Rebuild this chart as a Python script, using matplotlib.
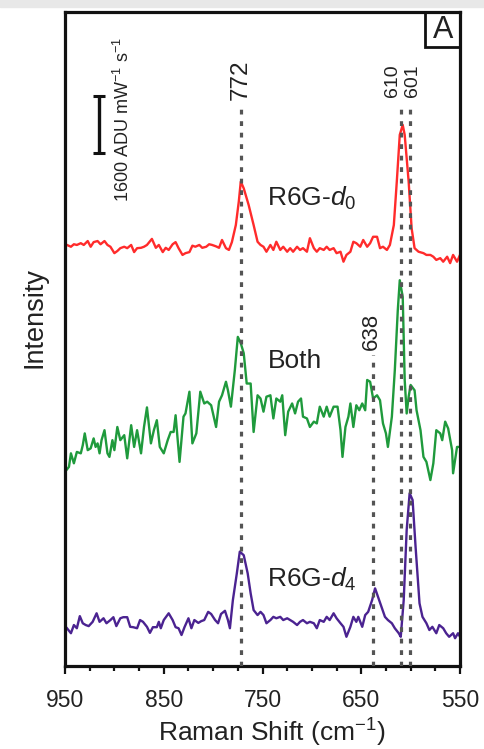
import numpy as np
import matplotlib
matplotlib.use("Agg")
import matplotlib.pyplot as plt
from matplotlib.patches import Rectangle

plt.rcParams['font.family'] = ['Liberation Sans', 'DejaVu Sans']
plt.rcParams['mathtext.fontset'] = 'custom'
plt.rcParams['mathtext.rm'] = 'Liberation Sans'
plt.rcParams['mathtext.it'] = 'Liberation Sans:italic'
plt.rcParams['mathtext.bf'] = 'Liberation Sans:bold'

# ---- spectra (Raman shift in cm^-1, intensity in ADU mW^-1 s^-1 above each baseline)
red_shift = [948, 944, 941, 938, 934, 931, 927, 924, 921, 917, 914, 910, 907, 904, 900,
             897, 894, 890, 887, 883, 880, 877, 873, 870, 867, 862, 858, 855, 851, 848,
             845, 841, 838, 835, 831, 828, 824, 821, 818, 814, 811, 807, 804, 801, 797,
             794, 791, 787, 784, 781, 777, 774, 772, 769, 764, 759, 755, 752, 749, 746,
             742, 739, 736, 732, 729, 725, 722, 719, 715, 712, 709, 705, 702, 698, 695,
             692, 688, 685, 682, 678, 675, 671, 668, 665, 661, 658, 655, 651, 648, 644,
             641, 638, 634, 631, 628, 624, 621, 617, 614, 611, 608, 606, 602, 599, 596,
             592, 587, 584, 580, 577, 574, 570, 567, 563, 560, 557, 553, 550]
red_counts = [140, 90, 160, 140, 190, 140, 250, 90, 220, 250, 160, 250, 140, 90, -90,
              -30, 50, 90, 50, 140, -60, 50, 60, 90, 140, 310, 60, 140, -60, 60,
              0, 160, 220, 50, -140, -90, -60, 120, 90, 140, 60, 90, 160, 140, 100,
              60, 280, 50, 0, 220, 700, 1360, 1920, 1730, 1260, 700, 230, 140, 90, -50,
              140, 0, 230, 0, 90, -50, 50, -50, 90, 0, 50, -50, 330, 50, -50,
              50, 0, 90, 0, 50, -90, -50, -330, -140, -50, 230, 190, 90, 280, 90,
              190, 370, 370, 50, 90, 0, 140, 700, 1920, 3230, 3510, 3230, 1920, 610, 50,
              -50, -90, -140, -140, -190, -280, -230, -330, -190, -370, -140, -330, -140]

both_shift = [950, 946, 944, 941, 938, 934, 932, 930, 927, 924, 921, 919, 917, 915, 913,
              910, 907, 905, 902, 900, 897, 894, 890, 887, 883, 880, 877, 873, 870, 867,
              863, 860, 857, 854, 850, 846, 843, 840, 838, 834, 830, 828, 824, 821, 817,
              813, 809, 806, 802, 797, 794, 791, 787, 785, 782, 778, 775, 772, 769, 766,
              762, 759, 755, 752, 749, 746, 742, 739, 736, 732, 730, 727, 724, 720, 717,
              714, 711, 709, 705, 702, 698, 695, 692, 688, 685, 682, 678, 674, 671, 669,
              666, 663, 661, 658, 655, 652, 649, 646, 644, 641, 638, 634, 631, 628, 625,
              623, 619, 616, 613, 611, 608, 606, 604, 602, 600, 596, 594, 590, 587, 584,
              580, 577, 574, 570, 568, 565, 562, 558, 557, 553, 550]
both_counts = [-330, -190, 190, -90, 230, 190, 420, 750, 280, 330, 610, 370, 470, 190, 560,
               840, 190, 90, 560, 280, 930, 560, 700, 50, 980, 370, 840, 190, 930, 1480,
               470, 840, 1120, 370, 190, 560, 790, 790, 1260, -50, 1220, 1310, 1920, 470, 750,
               1920, 1590, 1640, 1540, 930, 1640, 1820, 2200, 1960, 1500, 2530, 3460, 3280, 3000, 2150,
               2150, 790, 1820, 1730, 1360, 1780, 1820, 1170, 1730, 1640, 1820, 700, 1360, 1590, 1310,
               1640, 1730, 1220, 1170, 930, 1080, 1030, 1500, 1220, 1500, 1220, 1500, 1500, 840, 90,
               930, 1220, 1590, 930, 1540, 1400, 1590, 1400, 2250, 2200, 1730, 1820, 1680, 1030, 750,
               370, 1220, 2530, 4210, 5050, 4580, 2250, 1310, 1780, 2110, 1960, 1400, 840, 90, -50,
               -560, -90, 840, 750, 560, 1080, 890, 280, -370, 370, 370]

d4_shift = [948, 944, 941, 938, 935, 932, 929, 926, 922, 918, 915, 911, 908, 904, 901,
            898, 894, 891, 887, 884, 881, 877, 874, 871, 867, 864, 861, 857, 855, 853,
            850, 845, 841, 838, 835, 832, 829, 825, 822, 819, 815, 812, 809, 805, 802,
            798, 795, 792, 788, 785, 783, 780, 776, 773, 769, 765, 762, 759, 755, 752,
            749, 746, 742, 739, 736, 732, 729, 725, 722, 719, 715, 712, 709, 705, 702,
            698, 695, 692, 688, 685, 682, 678, 675, 671, 668, 665, 661, 658, 655, 653,
            649, 646, 643, 639, 636, 633, 629, 626, 623, 619, 616, 612, 610, 607, 604,
            601, 598, 595, 591, 588, 584, 581, 578, 574, 571, 567, 564, 561, 557, 555,
            552, 550]
d4_counts = [-90, -230, 0, -90, 250, 50, 0, -30, 90, 330, 90, 190, 50, 140, 220,
             -30, 190, 220, 220, -50, -60, -90, 140, 90, -50, -220, -60, -60, 90, -90,
             140, 330, 140, -60, -90, -280, -60, 190, -90, 140, 60, 110, 140, 370, 310,
             140, 50, 310, 400, 140, -90, 700, 1450, 2060, 1960, 1450, 890, 420, 280, 370,
             280, 50, 140, 230, 190, 230, 140, 190, 140, 90, 0, 90, 140, 50, 90,
             50, -90, 140, 90, 230, 140, 330, 190, 50, -50, -330, -50, 230, 90, 230,
             -50, 280, 370, 700, 1030, 790, 470, 230, 140, 50, -90, -230, -330, 700, 2670,
             3700, 3510, 2200, 610, 230, 50, -140, -50, -230, 0, -90, -230, -330, -230, -370,
             -230, -330]

# vertical stacking of the three traces
offsets = {'red': 11680, 'both': 5780, 'd4': 1150}

# band positions and where their guide lines stop
band_shift = [772, 638, 610, 601]
band_top = [15800, 8730, 15800, 15800]

scale_bar = 1600

fig = plt.figure(figsize=(4.84, 7.49), dpi=100)
fig.patches.append(Rectangle((0, 1 - 7 / 749), 1, 7 / 749, transform=fig.transFigure,
                             color='#e8e8e8', zorder=0))
ax = fig.add_axes([65 / 484, 83 / 749, 395 / 484, 654 / 749])

ax.plot(red_shift, np.array(red_counts) + offsets['red'], color='#ff2b2b', lw=1.7, zorder=2)
ax.plot(both_shift, np.array(both_counts) + offsets['both'], color='#1f9a3c', lw=1.7, zorder=2)
ax.plot(d4_shift, np.array(d4_counts) + offsets['d4'], color='#4b2391', lw=1.7, zorder=2)

# dotted band markers
for x, top in zip(band_shift, band_top):
    ax.vlines(x, 0, top, colors='#545454', linestyles=(0, (1.5, 2.1)), lw=2.3, zorder=3)

txt = '#222222'
ax.text(772, 15880, '772', rotation=90, ha='center', va='bottom', fontsize=17.5, color=txt)
ax.text(618, 15970, '610', rotation=90, ha='center', va='bottom', fontsize=14, color=txt)
ax.text(598.5, 15970, '601', rotation=90, ha='center', va='bottom', fontsize=14, color=txt)
ax.text(639.5, 8870, '638', rotation=90, ha='center', va='bottom', fontsize=16, color=txt)

# trace labels
ax.text(745, 12912, r'R6G-$\mathit{d}_0$', fontsize=19, color=txt, va='baseline', ha='left')
ax.text(745, 8365, 'Both', fontsize=19, color=txt, va='baseline', ha='left')
ax.text(745, 2218, r'R6G-$\mathit{d}_4$', fontsize=19, color=txt, va='baseline', ha='left')

# intensity scale bar
bar_x, bar_lo = 916, 14400
ax.vlines(bar_x, bar_lo, bar_lo + scale_bar, colors='#111111', lw=2.4)
ax.hlines([bar_lo, bar_lo + scale_bar], bar_x - 6, bar_x + 6, colors='#111111', lw=2.2)
ax.text(891, 15330, r'1600 ADU mW$^{-1}$ s$^{-1}$', rotation=90, ha='center', va='center',
        fontsize=13, color=txt)

# panel tag
ax.add_patch(Rectangle((0.911, 0.9465), 0.089, 0.0535, transform=ax.transAxes,
                       fill=False, lw=2.0, edgecolor='#111111', clip_on=False, zorder=4))
ax.text(0.9565, 0.9725, 'A', transform=ax.transAxes, ha='center', va='center',
        fontsize=22, color=txt)

ax.set_xlim(950, 550)
ax.set_ylim(0, 18360)
ax.set_xticks([950, 850, 750, 650, 550])
ax.set_xticks(np.arange(550, 951, 25), minor=True)
ax.set_yticks([])
ax.tick_params(axis='x', which='major', direction='out', length=5.5, width=1.6,
               labelsize=16.5, pad=11, colors='#111111', labelcolor=txt)
ax.tick_params(axis='x', which='minor', direction='out', length=3.5, width=1.6, colors='#111111')
for s in ax.spines.values():
    s.set_linewidth(2.3)
    s.set_color('#111111')

# axis titles placed in figure pixels
fig.text(272 / 484, 1 - 742 / 749, r'Raman Shift (cm$^{-1}$)', fontsize=19, color=txt,
         ha='center', va='baseline')
fig.text(35 / 484, 1 - 317 / 749, 'Intensity', fontsize=19.5, color=txt,
         ha='center', va='center', rotation=90)

fig.savefig('out.png', dpi=100)
